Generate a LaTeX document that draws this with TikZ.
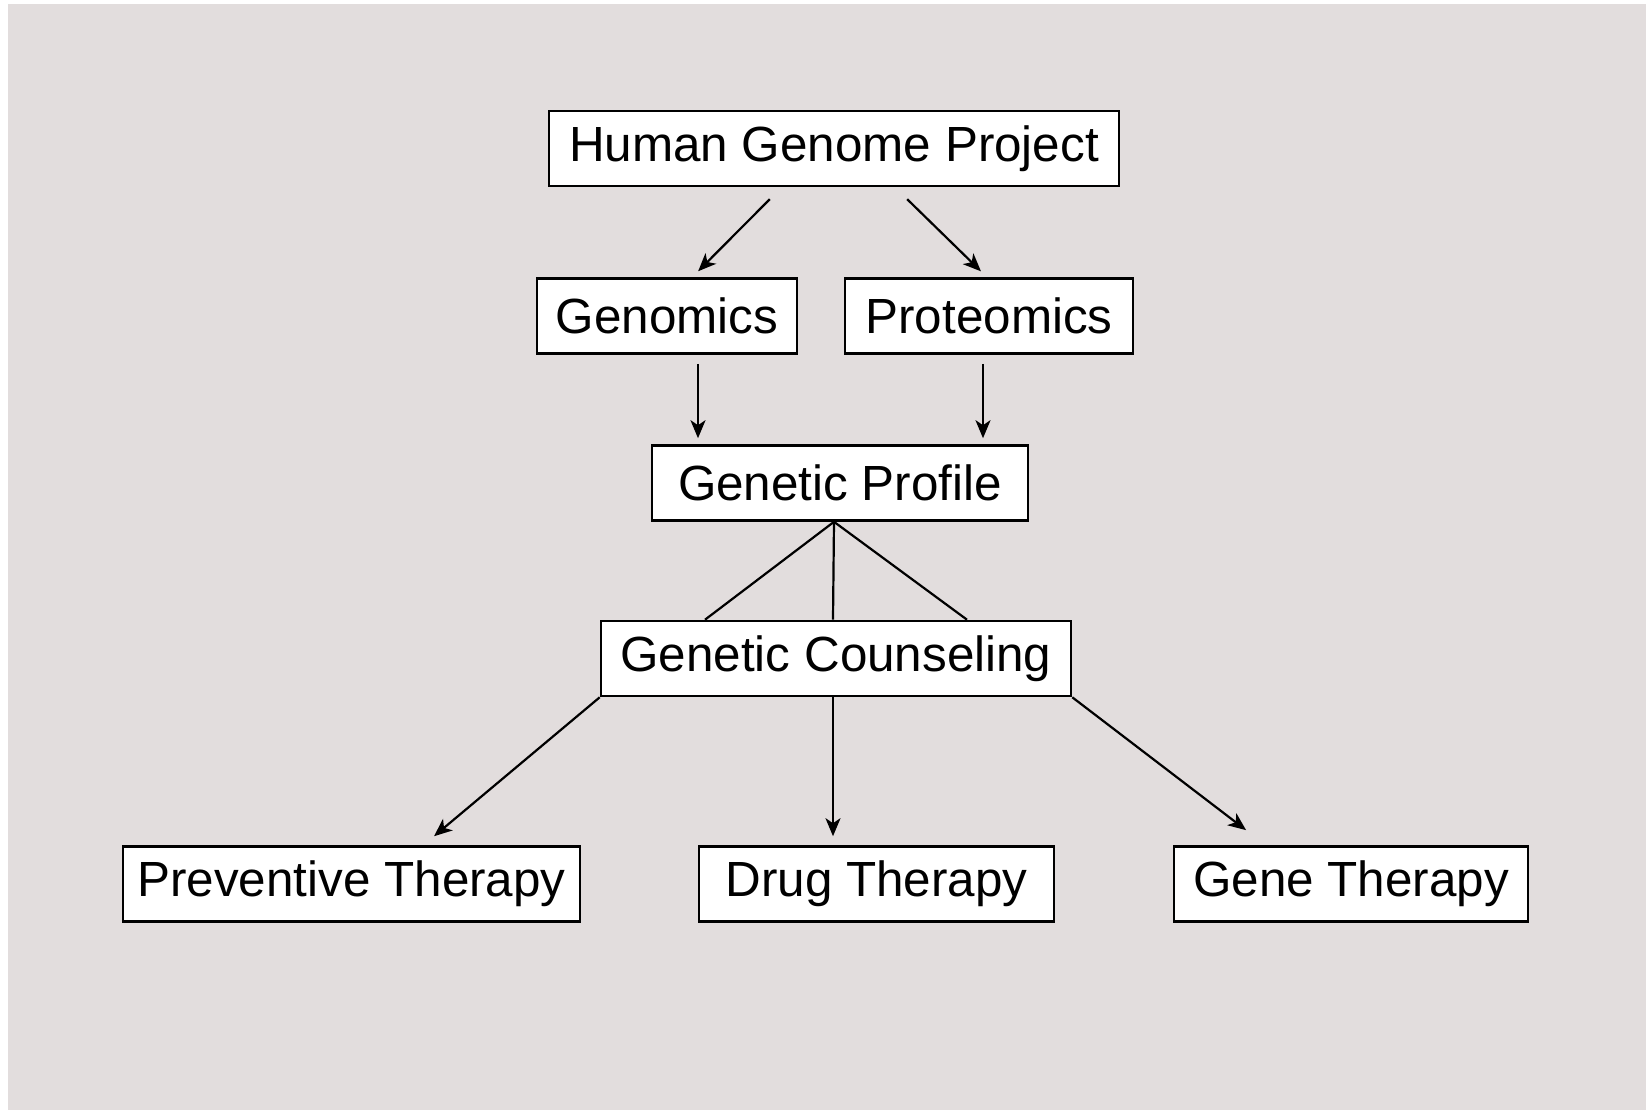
\documentclass[tikz,border=0pt]{standalone}
\usepackage{fontspec}
\setmainfont{Liberation Sans}
\usetikzlibrary{arrows.meta}
\definecolor{panel}{RGB}{226,221,221}
\begin{document}
\begin{tikzpicture}[
  x=0.5pt, y=-0.5pt,
  box/.style={rectangle, draw, fill=white, line width=1.3pt, minimum height=37.5pt,
    inner sep=0pt, font=\fontsize{24.7pt}{30pt}\selectfont},
  arr/.style={->, >={Stealth[length=9pt, width=7.5pt, inset=2.5pt]}, line width=1.1pt},
  link/.style={line width=1.1pt},
]

% --- background ---
\fill[white] (0,0) rectangle (1646,1110);
\fill[panel] (8,4) rectangle (1646,1110);

% --- boxes ---
\node[box, minimum width=285pt] (hgp) at (834,148.5) {Human Genome Project};
\node[box, minimum width=130pt] (gen) at (667,316) {Genomics};
\node[box, minimum width=144pt] (prot) at (989,316) {Proteomics};
\node[box, minimum width=188pt] (prof) at (840,483) {Genetic Profile};
\node[box, minimum width=235pt] (coun) at (836,658.5) {Genetic Counseling};
\node[box, minimum width=228.5pt] (prev) at (351.5,884) {Preventive Therapy};
\node[box, minimum width=177.5pt] (drug) at (876.5,884) {Drug Therapy};
\node[box, minimum width=177pt] (gene) at (1351,884) {Gene Therapy};

% --- arrows ---
\draw[arr, shorten <=8.4pt, shorten >=4.2pt] ([xshift=-26.2pt]hgp.south) -- ([xshift=12.6pt]gen.north);
\draw[arr, shorten <=8.5pt, shorten >=4.2pt] ([xshift=30.5pt]hgp.south) -- ([xshift=-1pt]prot.north);
\draw[arr, shorten <=4.5pt, shorten >=3pt] ([xshift=15.5pt]gen.south) -- ([xshift=-71pt]prof.north);
\draw[arr, shorten <=4.5pt, shorten >=3pt] ([xshift=-3pt]prot.south) -- ([xshift=71.5pt]prof.north);

\draw[link] ([xshift=-65.5pt]coun.north) -- ([xshift=-3pt]prof.south) -- ([xshift=65.5pt]coun.north);
\draw[link] ([xshift=-3pt]prof.south) -- ([xshift=-1.5pt]coun.north);

\draw[arr, shorten >=7pt] (coun.south west) -- ([xshift=35.9pt]prev.north);
\draw[arr, shorten >=4.5pt] ([xshift=-1.5pt]coun.south) -- ([xshift=-21.75pt]drug.north);
\draw[arr, shorten >=12.4pt] (coun.south east) -- ([xshift=-42.6pt]gene.north);

\end{tikzpicture}
\end{document}
